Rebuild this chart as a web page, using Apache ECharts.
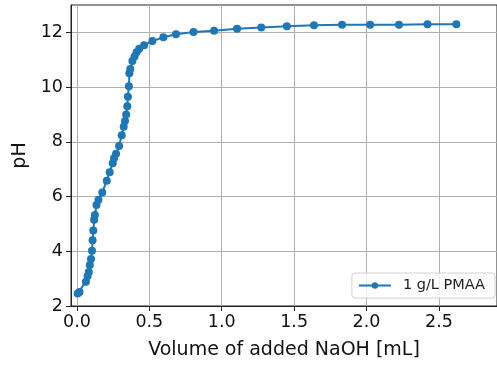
<!DOCTYPE html>
<html>
<head>
<meta charset="utf-8">
<script src="https://cdn.jsdelivr.net/npm/echarts@6/dist/echarts.min.js"></script>
<style>html,body{margin:0;padding:0;background:#fff}#c{width:497px;height:365px}</style>
</head>
<body>
<div id="c"></div>
<script>
const volume = [0.005, 0.018, 0.062, 0.074, 0.082, 0.089, 0.097, 0.104, 0.108, 0.113, 0.119, 0.124, 0.135, 0.149, 0.175, 0.206, 0.226, 0.247, 0.256, 0.270, 0.291, 0.309, 0.323, 0.332, 0.340, 0.348, 0.352, 0.359, 0.362, 0.368, 0.383, 0.398, 0.412, 0.430, 0.464, 0.521, 0.597, 0.684, 0.805, 0.947, 1.106, 1.273, 1.450, 1.637, 1.831, 2.025, 2.224, 2.421, 2.620];
const pH = [2.46, 2.51, 2.89, 3.10, 3.24, 3.50, 3.72, 4.02, 4.40, 4.76, 5.15, 5.33, 5.69, 5.88, 6.15, 6.58, 6.89, 7.22, 7.40, 7.56, 7.85, 8.24, 8.55, 8.76, 9.00, 9.30, 9.65, 10.03, 10.51, 10.66, 10.95, 11.12, 11.27, 11.40, 11.53, 11.68, 11.82, 11.93, 12.01, 12.06, 12.13, 12.18, 12.22, 12.26, 12.28, 12.28, 12.28, 12.30, 12.30];
const xTicks = [0, 0.5, 1.0, 1.5, 2.0, 2.5];
const yTicks = [2, 4, 6, 8, 10, 12];
const seriesName = '1 g/L PMAA';

const font = 'DejaVu Sans';
const chart = echarts.init(document.getElementById('c'));
chart.setOption({
  animation: false,
  textStyle: { fontFamily: font },
  grid: { left: 71, top: 5, width: 429, height: 302, containLabel: false, show: true, borderColor: '#222', borderWidth: 1 },
  legend: {
    right: 2, bottom: 67,
    data: [seriesName],
    itemWidth: 32, itemHeight: 8,
    textStyle: { fontSize: 14.5, color: '#222', fontFamily: font, padding: [0, 0, 0, 7] },
    borderColor: '#d0d0d0', borderWidth: 1, borderRadius: 3,
    backgroundColor: 'rgba(255,255,255,0.8)',
    padding: [5, 10, 5, 6]
  },
  xAxis: {
    type: 'value', min: -0.041, max: 2.901,
    name: 'Volume of added NaOH [mL]', nameLocation: 'middle', nameGap: 35,
    nameTextStyle: { fontSize: 19, color: '#111', fontFamily: font },
    axisLine: { show: true, onZero: false, lineStyle: { color: '#222', width: 1 } },
    axisTick: { show: true, length: 5, lineStyle: { color: '#222' }, customValues: xTicks },
    axisLabel: { fontSize: 17.5, color: '#111', margin: 7, customValues: xTicks, formatter: v => v.toFixed(1) },
    splitLine: { show: true, lineStyle: { color: '#b0b0b0', width: 1 }, customValues: xTicks }
  },
  yAxis: {
    type: 'value', min: 2, max: 13,
    name: 'pH', nameLocation: 'middle', nameGap: 36,
    nameTextStyle: { fontSize: 19, color: '#111', fontFamily: font },
    axisLine: { show: true, onZero: false, lineStyle: { color: '#222', width: 1 } },
    axisTick: { show: true, length: 5, lineStyle: { color: '#222' }, customValues: yTicks },
    axisLabel: { fontSize: 17.5, color: '#111', margin: 8, customValues: yTicks },
    splitLine: { show: true, lineStyle: { color: '#b0b0b0', width: 1 }, customValues: yTicks }
  },
  series: [{
    name: seriesName,
    type: 'line',
    data: volume.map((v, i) => [v, pH[i]]),
    symbol: 'circle', symbolSize: 8,
    itemStyle: { color: '#1f77b4' },
    lineStyle: { color: '#1f77b4', width: 2 }
  }]
});
</script>
</body>
</html>
